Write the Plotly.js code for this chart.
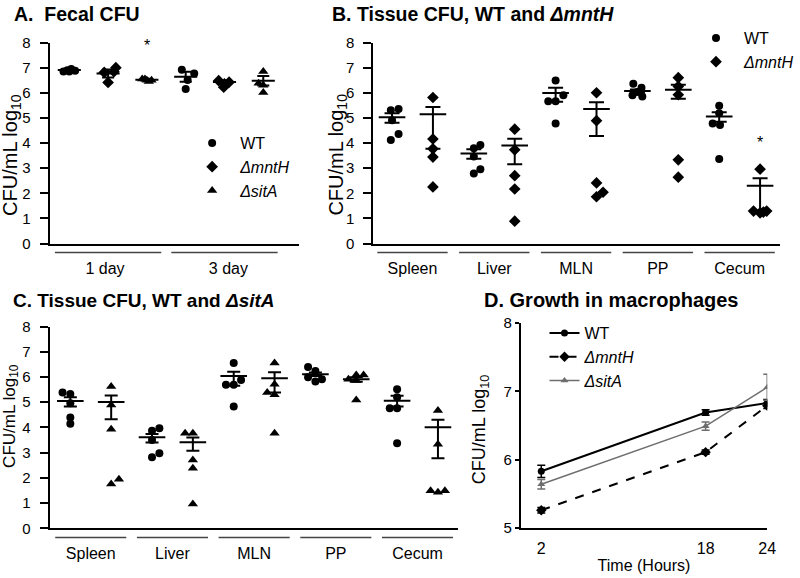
<!DOCTYPE html>
<html><head><meta charset="utf-8">
<script src="https://cdn.plot.ly/plotly-3.0.1.min.js"></script>
<style>html,body{margin:0;padding:0;background:#fff}#chart{width:800px;height:578px}</style>
</head><body><div id="chart"></div><script>
// ---------- Panel A: Fecal CFU ----------
const aDays = ['1 day', '3 day'];
const aWT   = [[6.85, 6.9, 6.95, 6.88, 6.85], [6.92, 6.77, 6.51, 6.15]];
const aMnth = [[7.0, 6.84, 6.81, 6.41], [6.48, 6.42, 6.35, 6.22]];
const aSit  = [[6.55, 6.5, 6.45, 6.5, 6.55], [6.85, 6.38, 6.3, 6.01]];
const aWTjit   = [[-0.15, -0.05, 0.05, 0.15, 0.0], [-0.1, 0.22, 0.05, 0.0]];
const aMnthjit = [[0.2, 0.15, -0.1, 0.0], [-0.15, 0.12, 0.0, -0.02]];
const aSitjit  = [[-0.12, 0.0, 0.05, 0.12, -0.05], [0.0, -0.12, 0.0, 0.0]];
const aMean = [6.91, 6.77, 6.52, 6.64, 6.43, 6.48];
const aSem  = [0.04, 0.16, 0.03, 0.2, 0.06, 0.19];

// ---------- Panel B: Tissue CFU, WT and mntH ----------
const tissues = ['Spleen', 'Liver', 'MLN', 'PP', 'Cecum'];
const bWT = [[5.3, 5.35, 4.91, 4.36, 4.12], [3.79, 3.92, 3.46, 2.96, 2.79], [6.49, 5.9, 5.66, 5.66, 4.78], [6.36, 6.2, 6.03, 5.9, 5.85], [5.48, 5.18, 4.78, 4.72, 3.36]];
const bWTjit = [[-0.03, 0.16, 0, 0.16, -0.03], [0, 0.16, 0, 0.16, 0], [0, 0.19, -0.18, 0, 0], [-0.1, 0.1, 0, -0.12, 0.12], [0, 0, -0.16, 0.02, 0]];
const bMnth = [[5.81, 4.16, 3.77, 3.44, 2.25], [4.55, 3.73, 2.7, 2.17, 0.89], [6.0, 4.89, 2.41, 1.86, 2.04], [6.6, 6.25, 5.92, 3.33, 2.64], [2.96, 1.29, 1.22, 1.25, 1.29]];
const bMnthjit = [[0, 0, 0, 0, 0], [0, 0, 0, 0, 0], [0, 0, 0, 0, 0.16], [0, 0, 0, 0, 0], [0, -0.16, 0, 0.08, 0.16]];
const bMean  = [5.02, 5.14, 3.58, 3.9, 5.99, 5.35, 6.07, 6.12, 5.05, 2.3];
const bPlus  = [0.16, 0.29, 0.17, 0.27, 0.21, 0.27, 0.06, 0.2, 0.17, 0.3];
const bMinus = [0.21, 1.37, 0.21, 0.75, 0.35, 1.07, 0.06, 0.36, 0.2, 1.05];

// ---------- Panel C: Tissue CFU, WT and sitA ----------
const cWT = [[5.38, 5.32, 4.96, 4.39, 4.14], [3.87, 3.97, 3.5, 2.82, 2.98], [6.55, 5.88, 5.69, 5.69, 4.83], [6.39, 6.24, 5.99, 5.82, 5.91], [5.51, 5.2, 4.76, 4.76, 3.37]];
const cWTjit = [[-0.19, 0, 0, 0, 0], [0, 0.18, 0, 0, 0.18], [0, 0.18, -0.19, 0, 0], [-0.18, 0, -0.18, 0, 0.16], [0, 0, -0.18, 0, 0]];
const cSit = [[5.62, 4.89, 3.93, 1.76, 1.94], [3.77, 3.77, 2.71, 2.38, 0.96], [6.55, 5.71, 5.38, 5.29, 3.77], [6.08, 6.08, 5.91, 5.86, 5.09], [4.67, 3.33, 1.49, 1.43, 1.49]];
const cSitjit = [[0, 0, 0, 0, 0.19], [-0.19, 0, 0, 0, 0], [0, 0, -0.18, 0, 0], [0, 0.18, -0.19, 0, 0], [0, 0, -0.18, 0, 0.17]];
const cMean  = [5.05, 5.01, 3.61, 3.41, 6.04, 5.95, 6.11, 5.91, 5.06, 4.01];
const cPlus  = [0.15, 0.25, 0.13, 0.19, 0.17, 0.24, 0.07, 0.08, 0.19, 0.29];
const cMinus = [0.22, 0.69, 0.21, 0.34, 0.39, 0.57, 0.07, 0.1, 0.23, 1.23];

// ---------- Panel D: Growth in macrophages ----------
const dHours = [2, 18, 24];
const dWT    = [5.83, 6.69, 6.83];
const dWTse  = [0.09, 0.04, 0.05];
const dMnth  = [5.26, 6.11, 6.79];
const dMnthse= [0.04, 0.03, 0.04];
const dSit   = [5.64, 6.49, 7.06];
const dSitse = [0.07, 0.06, 0.19];

const seriesNames = ['WT', '<i>ΔmntH</i>', '<i>ΔsitA</i>'];
const yTitle = 'CFU/mL log<sub>10</sub>';
const FONT = 'Liberation Sans, Arial, sans-serif';
const BLACK = '#000';

function pointsTrace(groups, jit, positions, name, symbol, size, xa, ya, legend, showlegend) {
  const x = [], y = [];
  groups.forEach((g, i) => g.forEach((v, j) => { x.push(positions[i] + jit[i][j]); y.push(v); }));
  return {type: 'scatter', mode: 'markers', x, y, name, xaxis: xa, yaxis: ya, legend,
    showlegend, marker: {symbol, size, color: BLACK}, hoverinfo: 'skip'};
}
function meanTrace(means, plus, minus, xa, ya, lw, capw) {
  return {type: 'scatter', mode: 'markers', x: means.map((_, i) => i), y: means,
    xaxis: xa, yaxis: ya, showlegend: false, hoverinfo: 'skip',
    marker: {symbol: 'line-ew', size: lw, color: BLACK, line: {color: BLACK, width: 2}},
    error_y: {type: 'data', symmetric: false, array: plus, arrayminus: minus,
      color: BLACK, thickness: 2, width: capw}};
}

// Panel A: six groups (WT, mntH, sitA) x (1 day, 3 day)
const aPos = {wt: [0, 3], mn: [1, 4], si: [2, 5]};
const traces = [
  pointsTrace(aWT, aWTjit, aPos.wt, seriesNames[0], 'circle', 8, 'x', 'y', 'legend', true),
  pointsTrace(aMnth, aMnthjit, aPos.mn, seriesNames[1], 'diamond', 9, 'x', 'y', 'legend', true),
  pointsTrace(aSit, aSitjit, aPos.si, seriesNames[2], 'triangle-up', 9, 'x', 'y', 'legend', true),
  meanTrace(aMean, aSem, aSem, 'x', 'y', 16.5, 6),
];
// Panel B
const wtPos = tissues.map((_, i) => 2 * i), mutPos = tissues.map((_, i) => 2 * i + 1);
traces.push(
  pointsTrace(bWT, bWTjit, wtPos, seriesNames[0], 'circle', 8, 'x2', 'y2', 'legend2', true),
  pointsTrace(bMnth, bMnthjit, mutPos, seriesNames[1], 'diamond', 9, 'x2', 'y2', 'legend2', true),
  meanTrace(bMean, bPlus, bMinus, 'x2', 'y2', 19, 7.5)
);
// Panel C
traces.push(
  pointsTrace(cWT, cWTjit, wtPos, seriesNames[0], 'circle', 8, 'x3', 'y3', 'legend', false),
  pointsTrace(cSit, cSitjit, mutPos, seriesNames[2], 'triangle-up', 9, 'x3', 'y3', 'legend', false),
  meanTrace(cMean, cPlus, cMinus, 'x3', 'y3', 19, 6.5)
);
// Panel D
function dTrace(y, se, name, color, dash, symbol, size, width) {
  return {type: 'scatter', mode: 'lines+markers', x: dHours, y, name, xaxis: 'x4', yaxis: 'y4',
    legend: 'legend3', hoverinfo: 'skip',
    line: {color, dash, width}, marker: {symbol, size, color},
    error_y: {type: 'data', array: se, color, thickness: 1.5, width: 4}};
}
traces.push(
  dTrace(dWT, dWTse, seriesNames[0], '#000', 'solid', 'circle', 7, 2),
  dTrace(dMnth, dMnthse, seriesNames[1], '#000', 'dash', 'diamond', 8, 2),
  dTrace(dSit, dSitse, seriesNames[2], '#6e6e6e', 'solid', 'triangle-up', 7, 1.5)
);

const yBase = {range: [0, 8], dtick: 1, tick0: 0, ticks: 'outside', ticklen: 8, tickwidth: 2,
  tickcolor: BLACK, showline: true, linewidth: 2, linecolor: BLACK, showgrid: false,
  zeroline: false, tickfont: {size: 15, color: BLACK}, ticklabelstandoff: 6};
const xBase = {showline: true, linewidth: 2, linecolor: BLACK, showgrid: false, zeroline: false,
  ticks: '', tickfont: {size: 16, color: BLACK}, ticklabelstandoff: 9};

const ABy = [(578 - 243.5) / 578, (578 - 42.5) / 578];
const Cy = [(578 - 528.3) / 578, (578 - 326.5) / 578];
const Dy = [(578 - 528) / 578, (578 - 323) / 578];

function underline(xref, yref, c, half) {
  return {type: 'line', xref, yref: yref + ' domain', x0: c - half, x1: c + half, y0: -0.045, y1: -0.045,
    line: {color: '#444', width: 1.5}};
}
const tissueCenters = tissues.map((_, i) => 2 * i + 0.5);
const shapes = [];
[1, 4].forEach(c => shapes.push(underline('x', 'y', c, 1.37)));
tissueCenters.forEach(c => shapes.push(underline('x2', 'y2', c, 0.86)));
tissueCenters.forEach(c => shapes.push(underline('x3', 'y3', c, 0.87)));

function title(text, x, y, xanchor, size) {
  return {text, xref: 'paper', yref: 'paper', x: x / 800, y: (578 - y) / 578, xanchor, yanchor: 'middle',
    showarrow: false, font: {size, weight: 'bold', color: BLACK}};
}
function ytitle(x, y, size) {
  return {text: yTitle, xref: 'paper', yref: 'paper', x: x / 800, y: (578 - y) / 578,
    xanchor: 'center', yanchor: 'middle', textangle: -90, showarrow: false,
    font: {size, color: BLACK}};
}
const annotations = [
  title('A.  Fecal CFU', 12, 14, 'left', 19.5),
  title('B. Tissue CFU, WT and <i>ΔmntH</i>', 333, 14, 'left', 19.5),
  title('C. Tissue CFU, WT and <i>ΔsitA</i>', 11, 300, 'left', 19),
  title('D. Growth in macrophages', 617, 300, 'center', 20),
  ytitle(11, 155, 20),
  ytitle(340, 155, 20),
  ytitle(11, 416, 17),
  ytitle(485, 430, 18),
  {text: '*', xref: 'x', yref: 'y', x: 2, y: 7.9, showarrow: false, font: {size: 16, color: BLACK}},
  {text: '*', xref: 'x2', yref: 'y2', x: 9, y: 4.0, showarrow: false, font: {size: 16, color: BLACK}},
];

const layout = {
  width: 800, height: 578, margin: {l: 0, r: 0, t: 0, b: 0},
  paper_bgcolor: '#fff', plot_bgcolor: 'rgba(0,0,0,0)',
  font: {family: FONT, color: BLACK},
  xaxis: Object.assign({}, xBase, {domain: [50 / 800, 302 / 800], range: [-0.51, 5.92], anchor: 'y',
    tickvals: [0.92, 4.1], ticktext: aDays}),
  yaxis: Object.assign({}, yBase, {domain: ABy, anchor: 'x'}),
  xaxis2: Object.assign({}, xBase, {domain: [377 / 800, 788 / 800], range: [-0.46, 9.49], anchor: 'y2',
    tickvals: tissueCenters, ticktext: tissues}),
  yaxis2: Object.assign({}, yBase, {domain: ABy, anchor: 'x2'}),
  xaxis3: Object.assign({}, xBase, {domain: [50 / 800, 463 / 800], range: [-0.51, 9.5], anchor: 'y3',
    tickvals: tissueCenters, ticktext: tissues}),
  yaxis3: Object.assign({}, yBase, {domain: Cy, anchor: 'x3'}),
  xaxis4: Object.assign({}, xBase, {domain: [526 / 800, 775 / 800], range: [0, 24], anchor: 'y4',
    tickvals: dHours, ticklabelstandoff: 5, title: {text: 'Time (Hours)', font: {size: 16, color: BLACK}, standoff: 4}}),
  yaxis4: Object.assign({}, yBase, {domain: Dy, anchor: 'x4', range: [5, 8], ticklen: 4, ticklabelstandoff: 0}),
  legend: {x: (216 - 30) / 800, y: (578 - 126) / 578, xanchor: 'left', yanchor: 'top',
    bgcolor: 'rgba(0,0,0,0)', itemwidth: 46, font: {size: 16, color: BLACK}},
  legend2: {x: (725 - 30) / 800, y: (578 - 21) / 578, xanchor: 'left', yanchor: 'top',
    bgcolor: 'rgba(0,0,0,0)', itemwidth: 46, font: {size: 16, color: BLACK}},
  legend3: {x: (552 - 2) / 800, y: (578 - 316) / 578, xanchor: 'left', yanchor: 'top',
    bgcolor: 'rgba(0,0,0,0)', font: {size: 16, color: BLACK}},
  shapes, annotations,
};

Plotly.newPlot('chart', traces, layout, {displayModeBar: false, staticPlot: true});
</script></body></html>
